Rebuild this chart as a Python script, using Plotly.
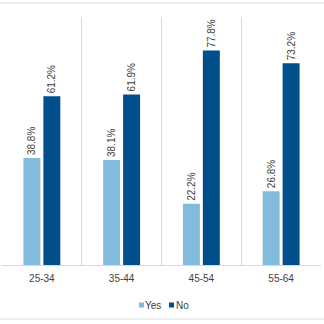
import plotly.graph_objects as go

categories = ["25-34", "35-44", "45-54", "55-64"]
yes_values = [38.8, 38.1, 22.2, 26.8]
no_values = [61.2, 61.9, 77.8, 73.2]
series_names = ["Yes", "No"]
series_colors = ["#82BBDB", "#004F8A"]

font_family = "Liberation Sans, Arial, sans-serif"
text_color = "#404040"

# plot-area geometry in pixels (for converting legend/border positions to paper coords)
PL, PR, PT, PB = 2, 321, 17, 265


def px_x(px):
    return (px - PL) / (PR - PL)


def px_y(py):
    return (PB - py) / (PB - PT)


fig = go.Figure()
for name, vals, col in zip(series_names, [yes_values, no_values], series_colors):
    fig.add_trace(go.Bar(
        name=name, x=categories, y=vals,
        marker=dict(color=col, line=dict(width=0)),
        text=[f"{v:.1f}%" for v in vals], textposition="outside",
        textangle=-90, constraintext="none", cliponaxis=False,
        textfont=dict(size=10, color=text_color, family=font_family),
        showlegend=False,
    ))

# legend: small squares + labels (Excel style)
legend_items = [(139, 143, "Yes"), (169, 174, "No")]
shapes = []
annotations = []
for (sq_x, tx_x, label), col in zip(legend_items, series_colors):
    shapes.append(dict(type="rect", xref="paper", yref="paper",
                       x0=px_x(sq_x), x1=px_x(sq_x + 5),
                       y0=px_y(307.5), y1=px_y(302.5),
                       fillcolor=col, line=dict(width=0)))
    annotations.append(dict(xref="paper", yref="paper", x=px_x(tx_x), y=px_y(305),
                            xanchor="left", yanchor="middle", showarrow=False,
                            text=label, font=dict(size=10, color=text_color, family=font_family)))

# chart border lines (top and bottom)
for py in (3, 319):
    shapes.append(dict(type="line", xref="paper", yref="paper", x0=-0.1, x1=1.1,
                       y0=px_y(py), y1=px_y(py), line=dict(color="#D9D9D9", width=1)))

fig.update_layout(
    width=324, height=324,
    margin=dict(l=PL, r=324 - PR, t=PT, b=324 - PB),
    paper_bgcolor="white", plot_bgcolor="white",
    barmode="group", bargap=0.5, bargroupgap=0.15,
    font=dict(family=font_family, size=10, color=text_color),
    showlegend=False,
    xaxis=dict(showline=True, linecolor="#D9D9D9", linewidth=1,
               showgrid=True, gridcolor="#D9D9D9", gridwidth=1,
               tickson="boundaries", ticks="", ticklabelstandoff=4,
               tickfont=dict(size=10, color=text_color),
               fixedrange=True),
    yaxis=dict(range=[0, 90], visible=False, showgrid=False, zeroline=False, fixedrange=True),
    shapes=shapes,
    annotations=annotations,
)

fig.write_html("out.html", config={"displayModeBar": False})
